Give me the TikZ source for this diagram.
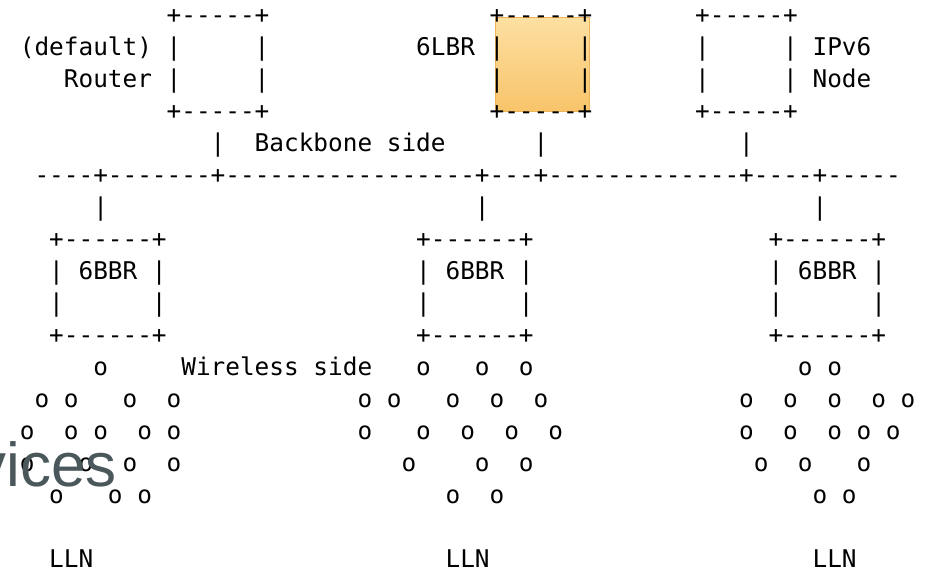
\documentclass[tikz,border=0pt]{standalone}
\usepackage{fontspec}
\newfontfamily\ascfont{DejaVu Sans Mono}
\newfontfamily\vicfont{Liberation Sans}
\definecolor{lbrtop}{HTML}{FDE0A2}
\definecolor{lbrbot}{HTML}{F8C46A}
\definecolor{lbredge}{HTML}{EFB458}
\definecolor{vicgray}{HTML}{4B585B}
\frenchspacing

\tikzset{
  asc/.style={font=\ascfont\fontsize{18.29}{20}\selectfont, anchor=base west, inner sep=0pt, outer sep=0pt},
  lbrbox/.style={draw=lbredge, top color=lbrtop, bottom color=lbrbot},
  vic/.style={font=\vicfont\fontsize{46.5}{50}\selectfont, text=vicgray, anchor=base west, inner sep=0pt}
}
% one character cell per column, one text line per row
\newcommand{\asc}[4]{\node[asc] (#1) at ({19.86+14.68*(#2)},{23+32*(#3)}) {#4};}

\begin{document}
\begin{tikzpicture}[x=0.75pt,y=-0.75pt]
\useasboundingbox (0,0) rectangle (925,572);
\fill[white] (0,0) rectangle (925,572);

% highlighted 6LBR
\draw[lbrbox] (495,17) rectangle (589,111);

% routers on the backbone
\foreach \c/\n in {10/rtr,32/lbr,46/ipn}{
  \asc{\n-t}{\c}{0}{+-----+}
  \asc{\n-b}{\c}{3}{+-----+}
  \foreach \r in {1,2}{
    \asc{\n-l\r}{\c}{\r}{|}
    \asc{\n-r\r}{\c+6}{\r}{|}
  }
}
\asc{rtr-lab1}{0}{1}{(default)}
\asc{rtr-lab2}{3}{2}{Router}
\asc{lbr-lab}{27}{1}{6LBR}
\asc{ipn-lab1}{54}{1}{IPv6}
\asc{ipn-lab2}{54}{2}{Node}

% backbone
\foreach \c in {13,35,49}{ \asc{up-\c}{\c}{4}{|} }
\asc{bb-lab}{16}{4}{Backbone side}
\asc{bb}{1}{5}{----+-------+-----------------+---+-------------+----+-----}
\foreach \c in {5,31,54}{ \asc{dn-\c}{\c}{6}{|} }

% backbone routers
\foreach \c in {2,27,51}{
  \asc{bbr-t\c}{\c}{7}{+------+}
  \asc{bbr-b\c}{\c}{10}{+------+}
  \foreach \r in {8,9}{
    \asc{bbr-l\c-\r}{\c}{\r}{|}
    \asc{bbr-r\c-\r}{\c+7}{\r}{|}
  }
  \asc{bbr-lab\c}{\c+2}{8}{6BBR}
}

% wireless side
\asc{ws-lab}{11}{11}{Wireless side}
\foreach \r/\cols in {11/{5,27,31,34,53,55},
                      12/{1,3,7,10,23,25,29,32,35,49,52,55,58,60},
                      13/{0,3,5,8,10,23,27,30,33,36,49,52,55,57,59},
                      14/{0,4,7,10,26,31,34,50,53,57},
                      15/{2,6,8,29,32,54,56}}{
  \foreach \c in \cols { \asc{o-\r-\c}{\c}{\r}{o} }
}
\foreach \c in {2,29,54}{ \asc{lln-\c}{\c}{17}{LLN} }

\node[vic] (vices) at (-25,486) {vices};
\end{tikzpicture}
\end{document}
